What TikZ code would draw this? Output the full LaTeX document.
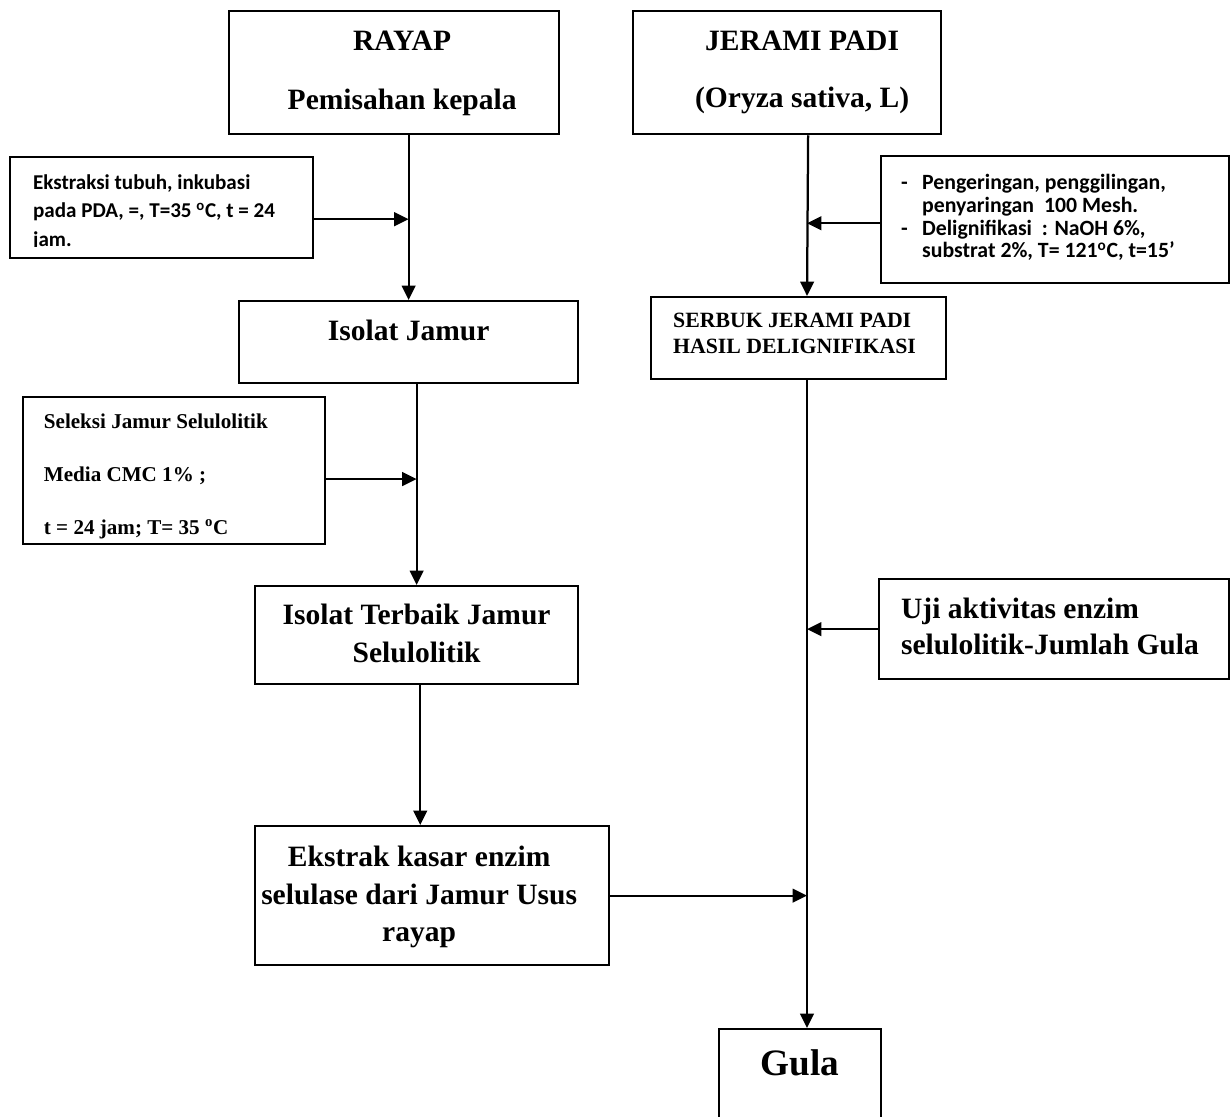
\documentclass[tikz,border=0pt]{standalone}
\usepackage{fontspec}
\setmainfont{Liberation Serif}
\newfontfamily\calibri{Carlito}
\usetikzlibrary{arrows.meta}
\newcommand{\inbox}[3]{\parbox[c][#2][t]{#1}{#3}}

\begin{document}
\begin{tikzpicture}[x=0.25mm,y=-0.25mm,
    box/.style={draw, line width=1.6pt, anchor=north west, inner sep=0pt, font=\bfseries},
    flow/.style={line width=1.6pt, -{Triangle[length=3.6mm,width=3.4mm]}}]
  \useasboundingbox (0,0) rectangle (1232,1116);

  % left column: rayap
  \node[box] (rayap) at (228,10) {\inbox{82.5mm}{30.75mm}{\centering
      \fontsize{21}{42}\selectfont\vspace*{4.9mm}\hspace*{4mm}RAYAP\\
      \hspace*{4mm}Pemisahan kepala}};
  \node[box] (isolat) at (238,300) {\inbox{84.75mm}{20.5mm}{\centering
      \fontsize{21}{42}\selectfont\vspace*{4.6mm}Isolat Jamur}};
  \node[box] (terbaik) at (254,585) {\inbox{80.75mm}{24.5mm}{\centering
      \fontsize{21}{27}\selectfont\vspace*{4.5mm}Isolat Terbaik Jamur\\Selulolitik}};
  \node[box] (ekstrak) at (254,825) {\inbox{88.5mm}{34.75mm}{\centering
      \fontsize{21}{26.7}\selectfont\vspace*{5mm}\hspace*{-6.5mm}Ekstrak kasar enzim\\
      \hspace*{-6.5mm}selulase dari Jamur Usus\\\hspace*{-6.5mm}rayap}};

  % side boxes, left
  \begin{scope}
    \clip (10,157) rectangle (311,246.5);
    \node[box, draw=none] (ekstraksi) at (10,157) {\inbox{75.25mm}{24.75mm}{\raggedright
        \leftskip=5.5mm\calibri\fontsize{15}{20.3}\selectfont\vspace*{4.1mm}%
        Ekstraksi tubuh, inkubasi\\pada PDA, =, T=35~\textsuperscript{o}C, t = 24\\jam.}};
  \end{scope}
  \draw[line width=1.6pt] (ekstraksi.north west) rectangle (ekstraksi.south east);
  \node[box] (seleksi) at (22,396) {\inbox{75.5mm}{36.75mm}{\raggedright
      \leftskip=5.2mm\fontsize{15}{37.7}\selectfont\vspace*{4.1mm}%
      Seleksi Jamur Selulolitik\\Media CMC 1\% ;\\t = 24 jam; T= 35 \textsuperscript{o}C}};

  % right column: jerami padi
  \node[box] (jerami) at (632,10) {\inbox{77mm}{30.75mm}{\centering
      \fontsize{21}{40.5}\selectfont\vspace*{4.9mm}\hspace*{7.5mm}JERAMI PADI\\
      \hspace*{7.5mm}(Oryza sativa, L)}};
  \node[box] (serbuk) at (650,296) {\inbox{73.75mm}{20.5mm}{\raggedright
      \leftskip=5.5mm\fontsize{15.5}{18.5}\selectfont\vspace*{4mm}%
      SERBUK JERAMI PADI\\HASIL DELIGNIFIKASI}};
  \node[box] (gula) at (718,1028) {\inbox{40.5mm}{25mm}{\centering
      \fontsize{26.5}{30}\selectfont\vspace*{5.2mm}Gula}};

  % side boxes, right
  \node[box] (pengeringan) at (880,155) {\inbox{87mm}{31.75mm}{\raggedright
      \leftskip=5mm\calibri\fontsize{15.5}{16.1}\selectfont\vspace*{4.5mm}%
      \begin{tabular}{@{}l@{\hspace{3.6mm}}l@{}}
        - & Pengeringan, penggilingan,\\
          & penyaringan~ 100 Mesh.\\
        - & Delignifikasi~ : NaOH 6\%,\\
          & substrat 2\%, T= 121\textsuperscript{o}C, t=15’
      \end{tabular}}};
  \node[box] (uji) at (878,578) {\inbox{87.5mm}{25mm}{\raggedright
      \leftskip=5.5mm\fontsize{21}{25.6}\selectfont\vspace*{4.7mm}%
      Uji aktivitas enzim\\selulolitik-Jumlah Gula}};

  % main lines
  \draw[flow] (rayap.south -| isolat.north) -- (isolat.north);
  \draw[flow] (isolat.south -| terbaik.north) -- (terbaik.north);
  \draw[flow] ([xshift=0.9mm]terbaik.south) -- ([xshift=0.9mm]terbaik.south |- ekstrak.north);
  \coordinate (sbot) at ([xshift=2.1mm]serbuk.south);
  \draw[flow] ([xshift=5.25mm]jerami.south) -- ([xshift=2.1mm]serbuk.north);
  \draw[flow] (sbot) -- (sbot |- gula.north);

  % side arrows
  \draw[flow] ([yshift=-2.9mm]ekstraksi.east) coordinate (e1) -- (e1 -| isolat.north);
  \draw[flow] ([yshift=-2.1mm]seleksi.east) coordinate (s1) -- (s1 -| terbaik.north);
  \draw[flow] ([yshift=-0.9mm]pengeringan.west) coordinate (p1) -- (p1 -| sbot);
  \draw[flow] (uji.west) -- (uji.west -| sbot);
  \draw[flow] (ekstrak.east) -- (ekstrak.east -| sbot);
\end{tikzpicture}
\end{document}
